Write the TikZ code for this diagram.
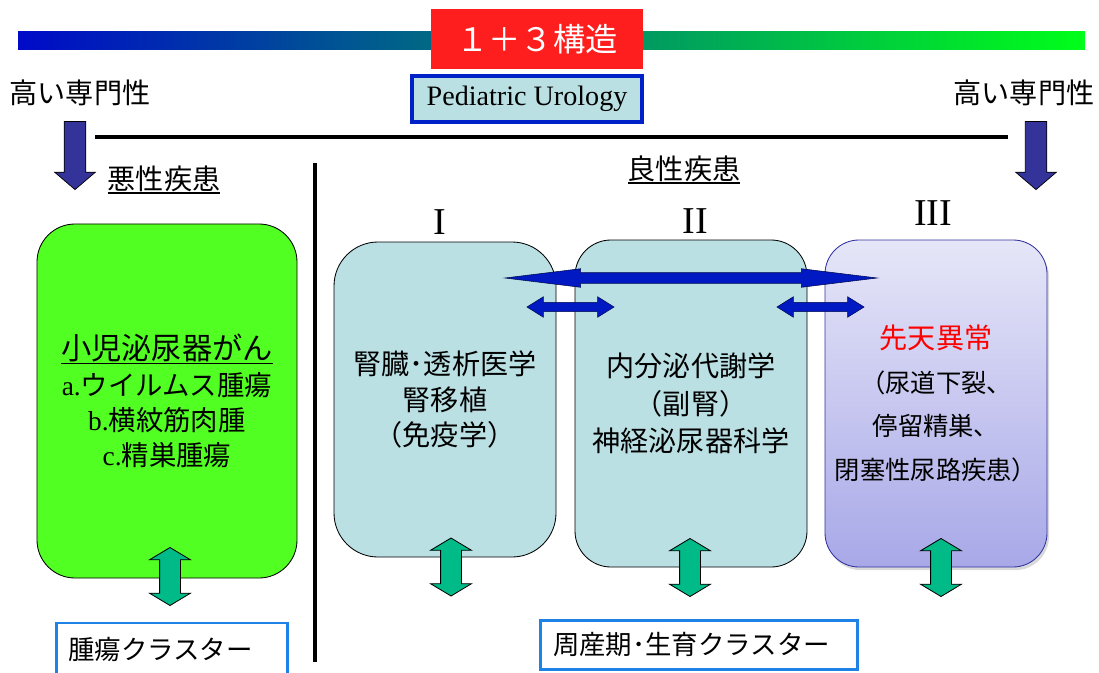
\documentclass[tikz,border=0pt]{standalone}
\usepackage{fontspec}
\setmainfont{Liberation Serif}
\newfontfamily\jp{Noto Sans CJK JP}
\usetikzlibrary{shapes.arrows,shadows}

\definecolor{barblue}{RGB}{0,10,200}
\definecolor{barmid}{RGB}{0,190,170}
\definecolor{bargreen}{RGB}{0,255,25}
\definecolor{titlered}{RGB}{255,30,30}
\definecolor{paleblue}{RGB}{186,224,228}
\definecolor{frameblue}{RGB}{0,32,200}
\definecolor{clusterblue}{RGB}{30,130,230}
\definecolor{tumorgreen}{RGB}{82,255,34}
\definecolor{navy}{RGB}{51,51,153}
\definecolor{linkblue}{RGB}{0,25,195}
\definecolor{bandgreen}{RGB}{0,186,135}
\definecolor{violettop}{RGB}{230,230,248}
\definecolor{violetbot}{RGB}{168,168,232}
\definecolor{violetline}{RGB}{50,50,160}

\newcommand\withrule[1]{\vtop{\hbox{#1}\kern0.3pt\hrule height 1.1pt}}

\tikzset{
	jptext/.style={inner sep=0pt, font=\jp\fontsize{20pt}{25pt}\selectfont},
	numeral/.style={inner sep=0pt, font=\fontsize{27pt}{30pt}\selectfont},
	fieldbox/.style={draw=black, line width=0.6pt, fill=paleblue, rounded corners=1cm, align=center, font=\jp\fontsize{20pt}{25pt}\selectfont},
	clusterbox/.style={draw=clusterblue, line width=2.1pt, fill=white, align=left, minimum height=12.25mm, font=\jp\fontsize{18.8pt}{22pt}\selectfont},
	linkarrow/.style={double arrow, draw=black!60!linkblue, line width=0.4pt, fill=linkblue, inner xsep=0pt},
	bandarrow/.style={double arrow, draw=black, line width=0.6pt, fill=bandgreen, inner xsep=0pt, inner ysep=2.5mm, rotate=90,
		minimum height=14.5mm, double arrow head extend=2.5mm, double arrow tip angle=118},
	levelarrow/.style={single arrow, draw=black, line width=0.5pt, fill=navy, inner xsep=0pt, inner ysep=2.6mm, rotate=-90,
		minimum height=17mm, single arrow head extend=2.4mm, single arrow tip angle=99}
}

\begin{document}
\begin{tikzpicture}[x=0.25mm, y=-0.25mm]
	\useasboundingbox (0,0) rectangle (1099,672);
	\clip (0,0) rectangle (1099,672);
	
	% band and title
	\shade[left color=barblue, middle color=barmid, right color=bargreen] (18,31) rectangle (1085,49);
	\node[fill=titlered, minimum width=53mm, minimum height=15mm, text=white, font=\jp\fontsize{23pt}{26pt}\selectfont] (title) at (537,39) {１＋３構造};
	\node[draw=frameblue, line width=2.85pt, fill=paleblue, minimum width=57.5mm, minimum height=11.5mm, font=\fontsize{20pt}{22pt}\selectfont] (uro) at (527,99) {Pediatric Urology};
	
	% specialisation
	\node[jptext] (highL) at (80,93) {高い専門性};
	\node[jptext] (highR) at (1024,93) {高い専門性};
	\node[levelarrow] (downL) at (75,151) {};
	\node[levelarrow] (downR) at (1036,151) {};
	\coordinate (specL) at (95,137);
	\coordinate (specR) at (1008,137);
	\draw[line width=3.5pt] (specL) -- (specR);
	
	\node[jptext] (malign) at (164,180) {\withrule{悪性疾患}};
	\node[jptext] (benign) at (684,170) {\withrule{良性疾患}};
	\coordinate (divT) at (315,163);
	\coordinate (divB) at (315,662);
	\draw[line width=3pt] (divT) -- (divB);
	
	% fields
	\node[fieldbox, fill=tumorgreen, rounded corners=0.95cm, minimum width=65mm, minimum height=88.5mm, font=\jp\fontsize{19.5pt}{25pt}\selectfont] (tumor) at (167,401)
		{{\fontsize{21.5pt}{25pt}\selectfont\withrule{小児泌尿器がん}}\\{\rmfamily a.}ウイルムス腫瘍\\{\rmfamily b.}横紋筋肉腫\\{\rmfamily c.}精巣腫瘍};
	\node[fieldbox, rounded corners=1.1cm, minimum width=55.5mm, minimum height=78.75mm] (fieldI) at (445,399.5)
		{腎臓･透析医学\\腎移植\\（免疫学）};
	\node[fieldbox, rounded corners=0.9cm, minimum width=58mm, minimum height=81.75mm, font=\jp\fontsize{20pt}{26.7pt}\selectfont] (fieldII) at (691,403.5)
		{内分泌代謝学\\（副腎）\\神経泌尿器科学};
	\node[fieldbox, draw=violetline, top color=violettop, bottom color=violetbot, rounded corners=0.85cm, minimum width=55.5mm, minimum height=81.75mm,
		drop shadow={shadow xshift=0.5mm, shadow yshift=-0.8mm, opacity=0.3}, font=\jp\fontsize{18pt}{31pt}\selectfont] (fieldIII) at (936,403.5)
		{{\fontsize{20pt}{31pt}\selectfont\color{red}先天異常}\\（尿道下裂、\\停留精巣、\\閉塞性尿路疾患）};
	
	\node[numeral] (numI) at (440,222) {I};
	\node[numeral] (numII) at (695,221) {II};
	\node[numeral] (numIII) at (933,213) {III};
	
	% links
	\node[linkarrow, inner ysep=1.25mm, minimum height=93mm, double arrow head extend=1mm, double arrow tip angle=14] (linkAll) at (691,278) {};
	\foreach \name/\x in {linkI/570.5, linkIII/820.5}
		\node[linkarrow, inner ysep=1.1mm, minimum height=21.75mm, double arrow head extend=1.4mm, double arrow tip angle=64] (\name) at (\x,307) {};
	\foreach \name/\x/\y in {bandT/170/576.5, bandI/451/567, bandII/690/567.5, bandIII/941/567.5}
		\node[bandarrow] (\name) at (\x,\y) {};
	
	% clusters
	\node[clusterbox, text width=51.9mm, inner xsep=2.9mm, minimum height=13mm] (tumorcl) at (172,649) {腫瘍クラスター};
	\node[clusterbox, text width=73mm, inner xsep=3.1mm] (perical) at (699,645) {周産期･生育クラスター};
\end{tikzpicture}
\end{document}
